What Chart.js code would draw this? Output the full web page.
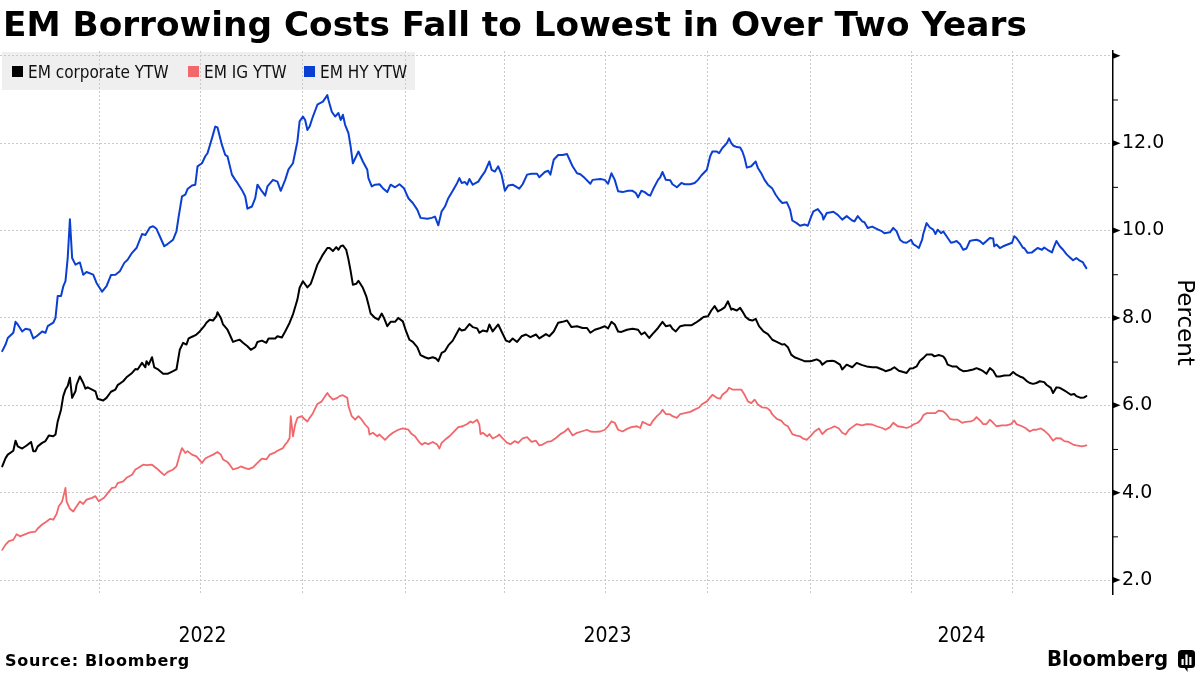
<!DOCTYPE html>
<html>
<head>
<meta charset="utf-8">
<script src="https://cdn.jsdelivr.net/npm/chart.js@4.4.1/dist/chart.umd.min.js"></script>
<style>
  html, body { margin: 0; padding: 0; background: #fff; }
  #wrap { position: relative; width: 1200px; height: 675px; overflow: hidden; }
  #c { position: absolute; left: 0; top: 0; }
  #title { position: absolute; left: 3px; top: 7px; font: bold 34.3px "DejaVu Sans"; color: #000; white-space: nowrap; line-height: 34px; }
  .lg { position: absolute; top: 62px; font: 17px "DejaVu Sans Condensed"; color: #111; white-space: nowrap; line-height: 20px; }
  .sw { position: absolute; top: 66px; width: 11px; height: 11px; }
  #source { position: absolute; left: 5px; top: 651px; font: bold 16px "DejaVu Sans"; letter-spacing: 0.75px; color: #000; white-space: nowrap; line-height: 20px; }
  #brand { position: absolute; left: 1047px; top: 646px; font: bold 22px "DejaVu Sans Condensed"; color: #000; white-space: nowrap; line-height: 26px; letter-spacing: 0px; }
  #icon { position: absolute; left: 1178px; top: 650px; }
</style>
</head>
<body>
<div id="wrap">
  <canvas id="c" width="1200" height="675"></canvas>
  <div id="title">EM Borrowing Costs Fall to Lowest in Over Two Years</div>
  <div class="sw" style="left:12px;background:#000"></div><div class="lg" style="left:28px">EM corporate YTW</div>
  <div class="sw" style="left:188px;background:#f2676b"></div><div class="lg" style="left:204px">EM IG YTW</div>
  <div class="sw" style="left:304px;background:#0b3fd1"></div><div class="lg" style="left:320px">EM HY YTW</div>
  <div id="source">Source: Bloomberg</div>
  <div id="brand">Bloomberg</div>
  <svg id="icon" width="18" height="22" viewBox="0 0 18 22">
    <rect x="0" y="0" width="17" height="18" rx="3.5" fill="#000"/>
    <path d="M6 17 L9.5 22 L9.5 17 Z" fill="#000"/>
    <rect x="3.5" y="9" width="2.2" height="6" fill="#fff"/>
    <rect x="7.4" y="4.5" width="2.2" height="10.5" fill="#fff"/>
    <rect x="11.3" y="7" width="2.2" height="8" fill="#fff"/>
  </svg>
</div>
<script>
// x values: days since 2022-01-01 ; y values: yield to worst, percent
const emHY = [[2,7.24],[5,7.39],[7,7.54],[12,7.66],[14,7.91],[16,7.85],[20,7.69],[23,7.75],[27,7.73],[30,7.53],[33,7.58],[38,7.69],[41,7.66],[43,7.81],[48,7.89],[50,8.0],[52,8.5],[55,8.5],[57,8.72],[59,8.84],[61,9.37],[63,10.26],[65,9.37],[68,9.22],[72,9.27],[75,8.99],[78,9.05],[84,8.99],[87,8.8],[92,8.6],[96,8.73],[100,8.98],[104,8.99],[108,9.07],[112,9.26],[115,9.33],[119,9.49],[123,9.6],[128,9.92],[131,9.9],[135,10.07],[138,10.1],[141,10.04],[144,9.87],[148,9.64],[151,9.69],[156,9.79],[159,9.98],[161,10.32],[164,10.78],[167,10.82],[169,10.95],[173,11.03],[176,11.05],[178,11.47],[182,11.54],[185,11.7],[187,11.77],[191,12.11],[194,12.38],[196,12.36],[200,11.96],[203,11.73],[205,11.7],[209,11.28],[212,11.16],[214,11.09],[218,10.93],[221,10.78],[223,10.5],[227,10.55],[230,10.74],[232,11.05],[236,10.9],[239,10.8],[241,11.01],[246,11.16],[250,11.12],[253,10.91],[257,11.16],[260,11.4],[264,11.54],[268,12.04],[270,12.5],[273,12.61],[275,12.53],[277,12.3],[279,12.38],[282,12.61],[286,12.88],[288,12.91],[291,12.95],[295,13.1],[296,12.99],[299,12.72],[302,12.61],[305,12.69],[307,12.53],[309,12.65],[311,12.42],[314,12.23],[316,11.92],[318,11.54],[321,11.7],[323,11.81],[327,11.58],[331,11.39],[332,11.2],[335,11.01],[338,11.05],[342,11.06],[345,10.97],[349,10.88],[352,11.05],[356,10.99],[360,11.06],[364,10.97],[368,10.74],[372,10.63],[376,10.48],[379,10.29],[385,10.27],[389,10.29],[392,10.32],[395,10.12],[398,10.44],[401,10.55],[404,10.74],[408,10.91],[412,11.09],[414,11.2],[416,11.09],[419,11.11],[421,11.05],[423,11.18],[426,11.05],[431,11.12],[434,11.24],[437,11.35],[441,11.58],[443,11.39],[446,11.35],[449,11.47],[452,11.28],[455,10.91],[458,11.03],[462,11.05],[468,10.96],[471,11.06],[475,11.28],[479,11.3],[484,11.3],[486,11.22],[491,11.34],[494,11.37],[496,11.28],[499,11.62],[503,11.73],[507,11.73],[511,11.75],[514,11.58],[516,11.47],[520,11.31],[523,11.29],[527,11.2],[532,11.07],[534,11.16],[541,11.18],[545,11.16],[548,11.07],[551,11.31],[554,11.16],[557,10.9],[561,10.88],[566,10.91],[570,10.91],[573,10.86],[575,10.76],[578,10.91],[581,10.88],[584,10.82],[586,10.8],[589,10.97],[593,11.16],[595,11.22],[597,11.34],[600,11.16],[604,11.15],[606,11.06],[610,10.99],[614,11.09],[617,11.06],[622,11.06],[626,11.09],[629,11.16],[632,11.26],[637,11.39],[640,11.7],[642,11.81],[646,11.81],[648,11.77],[651,11.89],[655,12.0],[657,12.11],[659,12.0],[661,11.94],[664,11.91],[667,11.9],[669,11.81],[671,11.66],[673,11.44],[677,11.47],[678,11.5],[681,11.58],[683,11.43],[686,11.31],[689,11.16],[692,11.05],[696,10.96],[699,10.82],[702,10.71],[705,10.63],[709,10.65],[712,10.48],[714,10.23],[718,10.17],[721,10.11],[725,10.14],[728,10.11],[731,10.32],[733,10.44],[737,10.49],[741,10.36],[742,10.25],[745,10.4],[749,10.42],[751,10.43],[755,10.36],[759,10.25],[763,10.33],[768,10.23],[770,10.21],[773,10.33],[777,10.21],[779,10.19],[782,10.06],[786,10.09],[790,10.04],[795,9.98],[797,9.94],[802,9.96],[805,10.06],[808,9.98],[811,9.79],[814,9.73],[817,9.72],[821,9.79],[823,9.69],[826,9.64],[828,9.6],[831,9.79],[832,9.92],[835,10.17],[838,10.07],[841,10.02],[843,9.92],[845,10.02],[848,9.94],[850,9.98],[853,9.87],[857,9.72],[859,9.73],[862,9.76],[865,9.69],[868,9.56],[871,9.59],[874,9.76],[877,9.78],[880,9.79],[883,9.76],[886,9.69],[889,9.76],[892,9.83],[895,9.82],[896,9.64],[898,9.68],[901,9.6],[904,9.64],[908,9.68],[912,9.72],[914,9.87],[916,9.83],[919,9.72],[922,9.6],[923,9.6],[926,9.49],[930,9.5],[932,9.54],[935,9.6],[939,9.56],[941,9.61],[944,9.56],[948,9.5],[950,9.64],[952,9.76],[955,9.64],[958,9.56],[961,9.46],[964,9.39],[967,9.32],[970,9.37],[973,9.31],[976,9.27],[977,9.22],[979,9.14]];

const emCorp = [[2,4.6],[5,4.79],[7,4.87],[12,4.96],[14,5.19],[16,5.06],[20,5.01],[24,5.08],[28,5.16],[30,4.95],[32,4.95],[34,5.06],[38,5.14],[41,5.18],[44,5.31],[48,5.29],[50,5.33],[52,5.63],[55,5.9],[57,6.21],[59,6.36],[61,6.44],[63,6.63],[65,6.17],[68,6.32],[69,6.47],[72,6.66],[75,6.51],[77,6.38],[79,6.41],[83,6.36],[86,6.32],[88,6.15],[93,6.11],[96,6.17],[100,6.31],[104,6.36],[106,6.46],[111,6.55],[114,6.64],[119,6.74],[122,6.83],[124,6.82],[128,6.97],[131,6.87],[132,7.01],[134,6.93],[137,7.1],[139,6.87],[142,6.83],[147,6.72],[151,6.72],[156,6.78],[159,6.82],[162,7.27],[165,7.43],[168,7.39],[170,7.53],[174,7.58],[177,7.62],[180,7.69],[184,7.81],[186,7.89],[189,7.96],[192,7.94],[195,8.04],[196,8.13],[199,8.0],[201,7.85],[205,7.73],[207,7.62],[210,7.45],[213,7.48],[216,7.5],[219,7.43],[223,7.35],[226,7.27],[230,7.33],[232,7.45],[236,7.48],[240,7.43],[242,7.53],[248,7.53],[250,7.58],[254,7.55],[257,7.69],[261,7.89],[264,8.08],[268,8.42],[270,8.69],[273,8.84],[277,8.7],[280,8.78],[282,8.92],[286,9.22],[288,9.31],[291,9.45],[295,9.6],[297,9.6],[300,9.53],[303,9.62],[305,9.56],[307,9.64],[309,9.66],[312,9.56],[314,9.34],[316,9.07],[318,8.76],[321,8.78],[323,8.85],[327,8.69],[330,8.5],[332,8.31],[334,8.1],[338,8.0],[341,7.96],[344,8.1],[346,8.0],[349,7.81],[352,7.91],[356,7.91],[359,8.0],[363,7.92],[366,7.69],[369,7.5],[372,7.45],[376,7.33],[379,7.15],[383,7.1],[386,7.07],[390,7.1],[393,7.07],[395,7.01],[398,7.2],[401,7.24],[404,7.37],[408,7.48],[411,7.62],[414,7.76],[416,7.71],[419,7.73],[423,7.86],[426,7.79],[430,7.76],[432,7.66],[435,7.71],[439,7.69],[441,7.85],[444,7.69],[449,7.85],[452,7.69],[456,7.48],[459,7.45],[462,7.53],[466,7.45],[470,7.58],[474,7.62],[478,7.56],[483,7.62],[486,7.53],[492,7.63],[495,7.58],[499,7.69],[503,7.89],[507,7.91],[511,7.94],[515,7.79],[520,7.81],[525,7.77],[529,7.77],[532,7.66],[536,7.73],[541,7.77],[545,7.81],[548,7.76],[551,7.91],[554,7.85],[557,7.69],[560,7.68],[565,7.73],[570,7.75],[575,7.73],[578,7.62],[581,7.67],[585,7.54],[588,7.63],[593,7.77],[597,7.91],[600,7.81],[604,7.83],[606,7.75],[609,7.69],[613,7.81],[617,7.83],[623,7.83],[627,7.89],[631,7.96],[634,8.02],[638,8.04],[641,8.17],[644,8.27],[647,8.15],[650,8.19],[653,8.24],[656,8.38],[659,8.19],[660,8.21],[664,8.17],[667,8.23],[669,8.15],[672,8.02],[675,7.96],[678,7.94],[681,7.98],[684,7.81],[688,7.69],[692,7.63],[696,7.5],[700,7.45],[705,7.39],[707,7.4],[710,7.33],[713,7.16],[716,7.1],[721,7.05],[725,7.01],[730,7.01],[732,7.02],[736,7.05],[739,7.01],[741,6.93],[745,7.01],[750,7.02],[752,7.01],[757,6.93],[759,6.82],[763,6.93],[768,6.87],[772,6.97],[777,6.92],[781,6.89],[786,6.87],[790,6.87],[795,6.82],[798,6.78],[803,6.82],[806,6.87],[810,6.79],[814,6.76],[817,6.74],[820,6.84],[823,6.85],[826,6.89],[829,7.02],[832,7.08],[835,7.16],[840,7.16],[842,7.12],[846,7.15],[850,7.12],[852,7.05],[854,6.93],[858,6.89],[862,6.89],[865,6.82],[868,6.78],[872,6.79],[877,6.82],[880,6.85],[883,6.82],[886,6.78],[889,6.72],[892,6.85],[895,6.79],[898,6.66],[901,6.66],[905,6.68],[910,6.69],[913,6.76],[916,6.7],[919,6.66],[922,6.63],[925,6.56],[928,6.51],[931,6.49],[934,6.51],[937,6.55],[941,6.53],[943,6.47],[947,6.4],[949,6.28],[952,6.41],[955,6.4],[959,6.34],[961,6.31],[965,6.24],[968,6.26],[970,6.21],[974,6.17],[977,6.18],[979,6.21]];

const emIG = [[2,2.69],[5,2.81],[8,2.89],[12,2.92],[15,3.05],[18,3.0],[23,3.05],[27,3.09],[32,3.11],[34,3.18],[38,3.27],[42,3.34],[45,3.4],[48,3.38],[51,3.51],[53,3.69],[56,3.8],[59,4.11],[60,3.8],[63,3.63],[66,3.57],[68,3.65],[72,3.8],[75,3.74],[78,3.84],[83,3.88],[86,3.92],[89,3.8],[94,3.89],[97,3.99],[101,4.11],[104,4.12],[106,4.22],[111,4.26],[114,4.34],[119,4.41],[122,4.53],[124,4.56],[129,4.64],[132,4.63],[137,4.64],[141,4.56],[144,4.49],[148,4.4],[151,4.47],[156,4.53],[159,4.6],[162,4.87],[164,5.02],[167,4.91],[169,4.95],[173,4.87],[177,4.83],[182,4.68],[185,4.78],[187,4.81],[192,4.87],[196,4.93],[199,4.87],[201,4.76],[205,4.7],[207,4.64],[210,4.53],[214,4.56],[217,4.6],[221,4.56],[224,4.54],[228,4.58],[232,4.68],[236,4.78],[240,4.76],[243,4.87],[247,4.91],[250,4.96],[255,5.02],[257,5.1],[259,5.16],[261,5.25],[262,5.75],[264,5.29],[266,5.56],[268,5.71],[272,5.75],[274,5.69],[277,5.63],[279,5.71],[282,5.82],[286,6.03],[290,6.09],[293,6.21],[295,6.28],[297,6.21],[300,6.13],[304,6.17],[306,6.21],[309,6.23],[313,6.17],[314,5.98],[317,5.75],[320,5.67],[323,5.75],[326,5.67],[329,5.56],[332,5.48],[333,5.33],[336,5.37],[340,5.29],[342,5.33],[347,5.21],[350,5.29],[354,5.37],[359,5.44],[363,5.47],[368,5.44],[371,5.34],[374,5.29],[377,5.18],[380,5.1],[383,5.14],[386,5.11],[390,5.16],[394,5.1],[396,5.01],[398,5.14],[401,5.21],[405,5.29],[408,5.37],[413,5.5],[417,5.52],[421,5.57],[424,5.63],[426,5.6],[430,5.67],[432,5.56],[433,5.34],[435,5.37],[439,5.29],[441,5.34],[444,5.24],[448,5.29],[450,5.33],[453,5.24],[457,5.14],[460,5.11],[464,5.18],[467,5.14],[471,5.24],[475,5.27],[479,5.16],[483,5.19],[486,5.08],[489,5.1],[493,5.16],[497,5.18],[501,5.25],[505,5.34],[509,5.4],[512,5.47],[516,5.31],[520,5.37],[524,5.4],[529,5.44],[532,5.4],[536,5.39],[541,5.4],[545,5.44],[548,5.52],[551,5.63],[554,5.6],[557,5.44],[561,5.4],[565,5.46],[569,5.5],[574,5.52],[577,5.48],[579,5.62],[583,5.57],[586,5.54],[588,5.63],[592,5.75],[595,5.82],[597,5.9],[600,5.8],[604,5.79],[606,5.75],[610,5.71],[613,5.8],[617,5.82],[622,5.85],[626,5.9],[630,5.95],[633,6.03],[637,6.09],[641,6.21],[642,6.24],[646,6.17],[649,6.15],[651,6.24],[655,6.32],[657,6.4],[660,6.36],[664,6.36],[668,6.36],[671,6.24],[674,6.09],[677,6.05],[680,6.13],[683,6.02],[687,5.95],[691,5.94],[694,5.88],[696,5.79],[700,5.69],[704,5.65],[707,5.56],[710,5.52],[714,5.34],[717,5.31],[721,5.29],[723,5.25],[727,5.21],[731,5.31],[734,5.4],[738,5.47],[741,5.34],[745,5.44],[749,5.48],[752,5.52],[756,5.47],[759,5.37],[762,5.33],[765,5.44],[768,5.5],[772,5.57],[777,5.54],[781,5.57],[786,5.56],[790,5.52],[795,5.48],[798,5.44],[802,5.5],[805,5.6],[809,5.52],[814,5.5],[817,5.48],[821,5.52],[823,5.56],[827,5.6],[830,5.67],[832,5.77],[835,5.82],[840,5.82],[843,5.82],[846,5.88],[850,5.86],[853,5.79],[856,5.69],[859,5.67],[863,5.67],[867,5.6],[870,5.62],[875,5.63],[878,5.67],[880,5.73],[884,5.63],[886,5.57],[889,5.57],[892,5.67],[895,5.6],[898,5.52],[903,5.54],[907,5.54],[911,5.57],[914,5.65],[916,5.57],[921,5.52],[924,5.48],[928,5.4],[931,5.44],[934,5.44],[938,5.47],[941,5.42],[945,5.33],[949,5.19],[952,5.25],[956,5.24],[959,5.18],[963,5.16],[967,5.1],[970,5.08],[975,5.06],[979,5.08]];

const seriesNames = ['EM corporate YTW', 'EM IG YTW', 'EM HY YTW'];
const seriesColors = ['#000000', '#f2676b', '#0b3fd1'];
const quarterStarts = ['2022-04-01','2022-07-01','2022-10-01','2023-01-01','2023-04-01','2023-07-01','2023-10-01','2024-01-01','2024-04-01','2024-07-01'];
const yearLabels = ['2022', '2023', '2024'];
const yearStarts = ['2022-01-01', '2023-01-01', '2024-01-01', '2025-01-01'];
const axisStart = '2022-01-01';
const axisEnd = '2024-09-30';
const yTickValues = [2,3,4,5,6,7,8,9,10,11,12,13,14];
const yLabelValues = [2,4,6,8,10,12];
const yMin = 1.68, yMax = 14.11;

const EPOCH = Date.UTC(2022, 0, 1);
function dayOf(s) { const p = s.split('-').map(Number); return (Date.UTC(p[0], p[1]-1, p[2]) - EPOCH) / 864e5; }
const xMin = dayOf(axisStart), xMax = dayOf(axisEnd);
const quarterDays = quarterStarts.map(dayOf);
const yearCenters = yearLabels.map((y, i) => {
  const a = Math.max(dayOf(yearStarts[i]), xMin), b = Math.min(dayOf(yearStarts[i+1]), xMax);
  return (a + b) / 2;
});
const toPts = arr => arr.map(p => ({x: p[0], y: p[1]}));

const legendBox = {
  id: 'legendBox',
  beforeDraw(chart) {
    const ctx = chart.ctx;
    ctx.save();
    ctx.fillStyle = '#efefef';
    ctx.fillRect(2, 52, 413, 38);
    ctx.restore();
  }
};
const axisMarks = {
  id: 'axisMarks',
  afterDraw(chart) {
    const ctx = chart.ctx, y = chart.scales.y, x0 = chart.chartArea.right;
    ctx.save();
    ctx.fillStyle = '#000'; ctx.strokeStyle = '#000'; ctx.lineWidth = 1;
    yTickValues.forEach(v => {
      const py = y.getPixelForValue(v);
      if (v % 2 === 0) {
        ctx.beginPath(); ctx.moveTo(x0, py - 3); ctx.lineTo(x0 + 7.5, py); ctx.lineTo(x0, py + 3); ctx.closePath(); ctx.fill();
      } else {
        ctx.beginPath(); ctx.moveTo(x0, py + 0.5); ctx.lineTo(x0 + 5, py + 0.5); ctx.stroke();
      }
    });
    ctx.restore();
  }
};

const gridColor = '#c9c9c9';
new Chart(document.getElementById('c'), {
  type: 'line',
  data: {
    datasets: [
      { label: seriesNames[2], data: toPts(emHY), borderColor: seriesColors[2], borderWidth: 2 },
      { label: seriesNames[0], data: toPts(emCorp), borderColor: seriesColors[0], borderWidth: 2 },
      { label: seriesNames[1], data: toPts(emIG), borderColor: seriesColors[1], borderWidth: 1.8 }
    ]
  },
  options: {
    responsive: false,
    animation: false,
    devicePixelRatio: 1,
    elements: { point: { radius: 0 }, line: { tension: 0, borderJoinStyle: 'round', borderCapStyle: 'round' } },
    layout: { padding: { left: 0, right: 0, top: 51, bottom: 0 } },
    plugins: { legend: { display: false }, tooltip: { enabled: false } },
    scales: {
      x: {
        type: 'linear', min: xMin, max: xMax, weight: 0,
        afterBuildTicks: s => { s.ticks = quarterDays.map(v => ({ value: v })); },
        ticks: { display: false },
        grid: { color: gridColor, lineWidth: 1, drawTicks: false },
        border: { display: false, dash: [2, 2] }
      },
      x2: {
        type: 'linear', position: 'bottom', min: xMin, max: xMax, weight: 1,
        afterBuildTicks: s => { s.ticks = yearCenters.map(v => ({ value: v })); },
        afterFit: s => { s.height = 81; },
        ticks: {
          autoSkip: false, maxRotation: 0, padding: 30, color: '#000',
          font: { family: 'DejaVu Sans Condensed', size: 21 },
          callback: (v, i) => yearLabels[i]
        },
        grid: { display: false, drawTicks: false },
        border: { display: false }
      },
      y: {
        type: 'linear', position: 'right', min: yMin, max: yMax,
        afterBuildTicks: s => { s.ticks = yTickValues.map(v => ({ value: v })); },
        afterFit: s => { s.width = 87; },
        ticks: {
          padding: 9, color: '#000',
          font: { family: 'DejaVu Sans', size: 19 },
          callback: v => (yLabelValues.includes(v) ? v.toFixed(1) : '')
        },
        grid: {
          drawTicks: false, lineWidth: 1,
          color: c => (c.tick && c.tick.value % 2 === 0 ? gridColor : 'rgba(0,0,0,0)')
        },
        border: { display: true, color: '#000', width: 1.5, dash: [2, 2] },
        title: { display: true, text: 'Percent', color: '#000', font: { family: 'DejaVu Sans', size: 23 }, padding: { top: 2, bottom: 0 } }
      }
    }
  },
  plugins: [legendBox, axisMarks]
});
</script>
</body>
</html>
